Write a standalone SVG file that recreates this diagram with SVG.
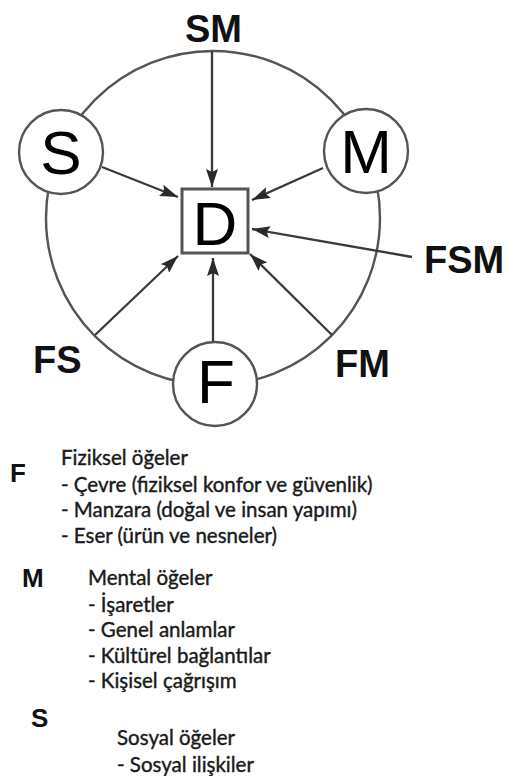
<svg xmlns="http://www.w3.org/2000/svg" width="509" height="776" viewBox="0 0 509 776">
  <style>
    .ring { fill: none; stroke: #555; stroke-width: 2.4; }
    .node { fill: #fff; stroke: #555; stroke-width: 2.4; }
    .box { fill: #fff; stroke: #555; stroke-width: 3; }
    .edge { stroke: #3a3a3a; stroke-width: 2.3; fill: none; marker-end: url(#head); }
    .big { font-family: "Liberation Sans", Arial, sans-serif; font-size: 62px; fill: #000; text-anchor: middle; }
    .lbl { font-family: "Liberation Sans", Arial, sans-serif; font-size: 38px; font-weight: bold; fill: #111; }
    .key { font-family: "Liberation Sans", Arial, sans-serif; font-size: 26px; font-weight: bold; fill: #111; }
    .item { font-family: Lato, "Liberation Sans", sans-serif; font-size: 20.5px; fill: #1a1a1a; stroke: #1a1a1a; stroke-width: 0.4; }
  </style>
  <defs>
    <marker id="head" viewBox="0 0 18 12" refX="18" refY="6" markerWidth="18" markerHeight="12" markerUnits="userSpaceOnUse" orient="auto">
      <path d="M0,0 L18,6 L0,12 L3,6 z" fill="#2a2a2a"/>
    </marker>
  </defs>

  <!-- outer ring linking the three element nodes -->
  <circle class="ring" cx="213" cy="218" r="167"/>

  <!-- arrows into the experience node -->
  <g id="connectors">
    <line class="edge" x1="212" y1="51" x2="212" y2="187"/>
    <line class="edge" x1="102" y1="167" x2="178" y2="197"/>
    <line class="edge" x1="323" y1="168" x2="252" y2="200"/>
    <line class="edge" x1="412" y1="257" x2="252" y2="229"/>
    <line class="edge" x1="95" y1="335" x2="178" y2="256"/>
    <line class="edge" x1="213" y1="342" x2="213" y2="258"/>
    <line class="edge" x1="332" y1="335" x2="250" y2="254"/>
  </g>

  <g id="node-S">
    <circle class="node" cx="61" cy="152" r="42"/>
    <text class="big" x="61" y="174">S</text>
  </g>
  <g id="node-M">
    <circle class="node" cx="366" cy="151" r="42"/>
    <text class="big" x="366" y="173">M</text>
  </g>
  <g id="node-F">
    <circle class="node" cx="215" cy="384" r="42"/>
    <text class="big" x="216" y="403">F</text>
  </g>
  <g id="node-D">
    <rect class="box" x="182" y="189" width="66" height="64"/>
    <text class="big" x="215" y="245">D</text>
  </g>

  <!-- combination labels -->
  <g id="labels">
    <text class="lbl" x="185" y="42">SM</text>
    <text class="lbl" x="424" y="273">FSM</text>
    <text class="lbl" x="33" y="373">FS</text>
    <text class="lbl" x="335" y="377">FM</text>
  </g>

  <!-- legend -->
  <g id="legend-F">
    <text class="key" x="10" y="482">F</text>
    <text class="item" x="61" y="465">Fiziksel öğeler</text>
    <text class="item" x="61" y="492">- Çevre (fiziksel konfor ve güvenlik)</text>
    <text class="item" x="61" y="517">- Manzara (doğal ve insan yapımı)</text>
    <text class="item" x="61" y="543">- Eser (ürün ve nesneler)</text>
  </g>
  <g id="legend-M">
    <text class="key" x="22" y="587">M</text>
    <text class="item" x="88" y="585">Mental öğeler</text>
    <text class="item" x="88" y="612">- İşaretler</text>
    <text class="item" x="88" y="637">- Genel anlamlar</text>
    <text class="item" x="88" y="663">- Kültürel bağlantılar</text>
    <text class="item" x="88" y="688">- Kişisel çağrışım</text>
  </g>
  <g id="legend-S">
    <text class="key" x="31" y="727">S</text>
    <text class="item" x="117" y="745">Sosyal öğeler</text>
    <text class="item" x="117" y="772">- Sosyal ilişkiler</text>
  </g>
</svg>
